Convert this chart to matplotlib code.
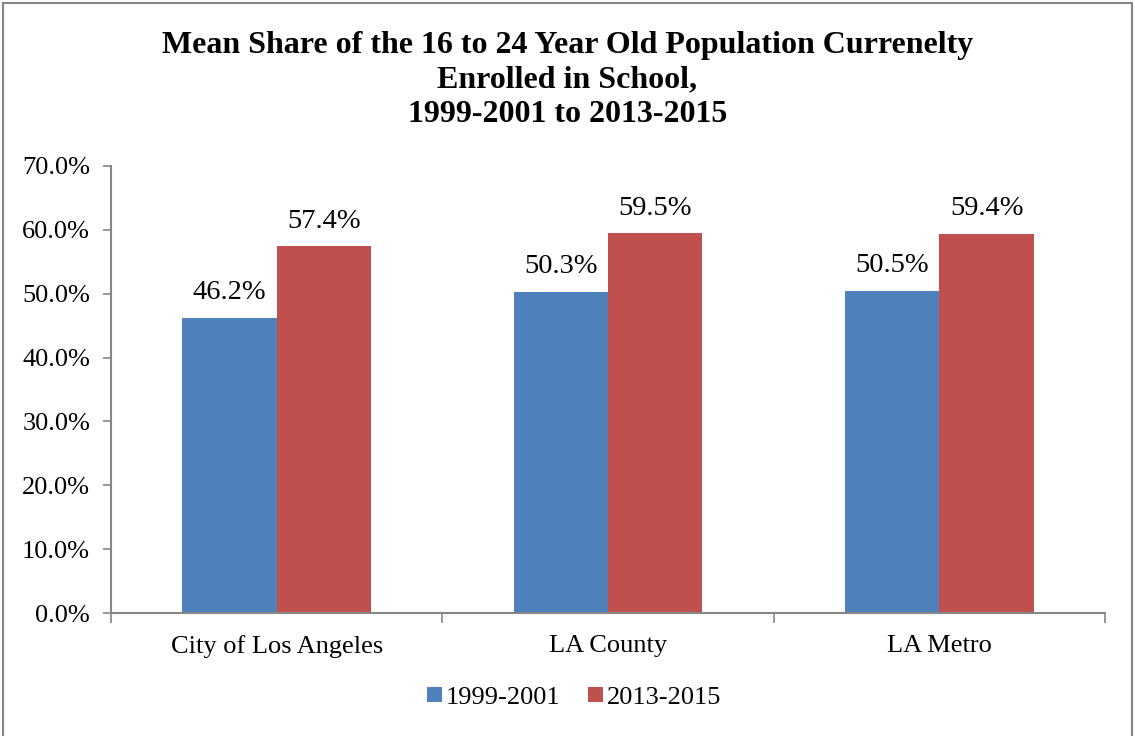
import numpy as np
import matplotlib
matplotlib.use('Agg')
import matplotlib.pyplot as plt
from matplotlib.patches import Rectangle
from matplotlib.ticker import FuncFormatter, FixedLocator

categories = ['City of Los Angeles', 'LA County', 'LA Metro']
series_names = ['1999-2001', '2013-2015']
values_1999 = [46.2, 50.3, 50.5]
values_2013 = [57.4, 59.5, 59.4]
colors = ['#4F81BD', '#C0504D']

plt.rcParams['font.family'] = ['Liberation Serif', 'DejaVu Serif']

fig = plt.figure(figsize=(11.35, 7.36), dpi=100)
ax = fig.add_axes([0.0978, 0.1671, 0.8758, 0.6074])

# outer frame (bottom edge runs off the image)
fig.patches.append(Rectangle((2.5 / 1135, -0.05), (1132 - 2.5) / 1135, 1.05 - 2.5 / 736,
                             transform=fig.transFigure, fill=False,
                             edgecolor='#868686', linewidth=1.5))

x = np.arange(len(categories))
w = 0.285
b1 = ax.bar(x - w / 2, values_1999, w, color=colors[0], label=series_names[0])
b2 = ax.bar(x + w / 2, values_2013, w, color=colors[1], label=series_names[1])

for bars, vals in [(b1, values_1999), (b2, values_2013)]:
    for bar, v in zip(bars, vals):
        ax.annotate(f'{v:.1f}%', (bar.get_x() + bar.get_width() / 2, v),
                    xytext=(0, 9), textcoords='offset points',
                    ha='center', va='bottom', fontsize=20.5)

ax.set_xlim(-0.5, len(categories) - 0.5)
ax.set_ylim(0, 70)
ax.set_yticks(np.arange(0, 71, 10))
ax.yaxis.set_major_formatter(FuncFormatter(lambda v, p: f'{v:.1f}%'))
ax.tick_params(axis='y', labelsize=19, length=6, color='#868686', width=1.2, pad=9)

ax.set_xticks(x)
ax.set_xticklabels(categories, fontsize=19)
ax.xaxis.set_minor_locator(FixedLocator(np.arange(-0.5, len(categories), 1)))
ax.tick_params(axis='x', which='major', length=0, pad=16)
ax.tick_params(axis='x', which='minor', length=7, color='#868686', width=1.2)

for s in ['top', 'right']:
    ax.spines[s].set_visible(False)
for s in ['left', 'bottom']:
    ax.spines[s].set_color('#868686')
    ax.spines[s].set_linewidth(1.5)

fig.text(0.5, 1 - 80 / 736, 'Mean Share of the 16 to 24 Year Old Population Currenelty\nEnrolled in School,\n1999-2001 to 2013-2015',
         ha='center', va='center', fontsize=23, fontweight='bold', linespacing=1.23)

fig.legend(handles=[b1, b2], loc='center', bbox_to_anchor=(0.506, 0.052), ncol=2,
           frameon=False, fontsize=19, handlelength=0.55, handleheight=0.55,
           handletextpad=0.15, columnspacing=1.05)

fig.savefig('out.png', dpi=100)
